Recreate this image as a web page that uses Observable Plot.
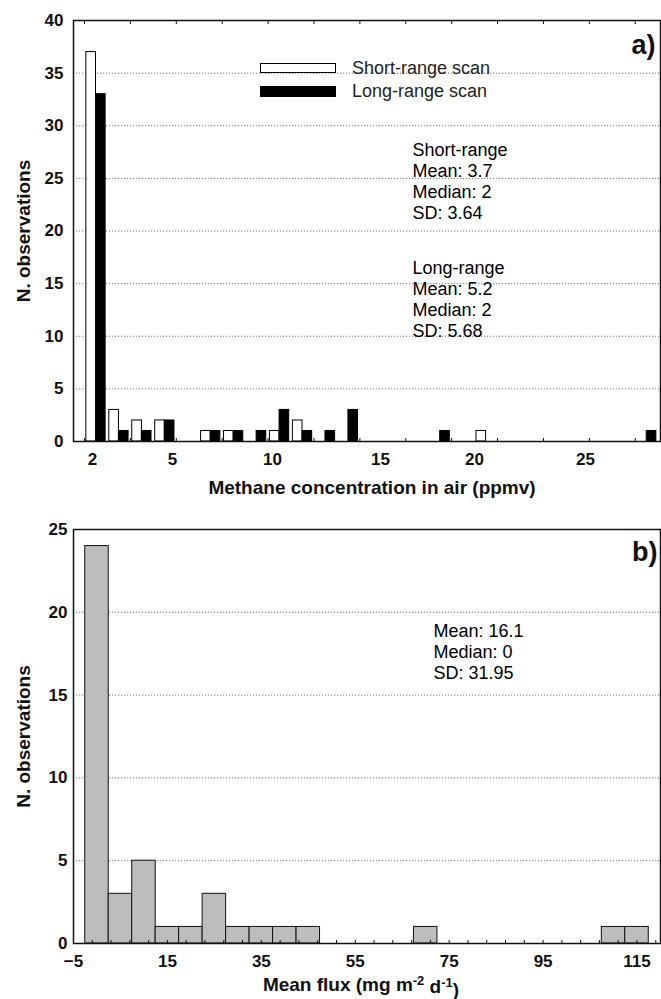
<!DOCTYPE html>
<html>
<head>
<meta charset="utf-8">
<script src="https://cdn.jsdelivr.net/npm/d3@7"></script>
<script src="https://cdn.jsdelivr.net/npm/@observablehq/plot@0.6"></script>
<style>
  body { margin: 0; background: #fff; }
  #wrap { position: relative; width: 661px; height: 999px; overflow: hidden; }
  #wrap svg { display: block; }
  .sw { position: absolute; box-sizing: border-box; border: 1px solid #000; }
  .lt { position: absolute; font-family: "Liberation Sans", Arial, sans-serif; font-size: 18px; color: #222; line-height: 1; white-space: nowrap; }
</style>
</head>
<body>
<div id="wrap"></div>
<script>
// ---------- DATA: panel a) ----------
const concBins = [0, 1, 2, 3, 4, 5, 6, 7, 8, 9, 10, 11, 12, 13, 14, 15, 16, 17, 18, 19, 20, 21, 22, 23, 24];
const shortRange = [37, 3, 2, 2, 0, 1, 1, 0, 1, 2, 0, 0, 0, 0, 0, 0, 0, 1, 0, 0, 0, 0, 0, 0, 0];
const longRange  = [33, 1, 1, 2, 0, 1, 1, 1, 3, 1, 1, 3, 0, 0, 0, 1, 0, 0, 0, 0, 0, 0, 0, 0, 1];
const concTickAt = [0.35, 3.83, 8.19, 12.9, 16.99, 21.83];
const concTickLabels = ["2", "5", "10", "15", "20", "25"];
const concYTicks = [0, 5, 10, 15, 20, 25, 30, 35, 40];
const seriesNames = ["Short-range scan", "Long-range scan"];
const statsShort = ["Short-range", "Mean: 3.7", "Median: 2", "SD: 3.64"];
const statsLong = ["Long-range", "Mean: 5.2", "Median: 2", "SD: 5.68"];

// ---------- DATA: panel b) ----------
const fluxBinCenter = [0, 5, 10, 15, 20, 25, 30, 35, 40, 45, 70, 110, 115];
const fluxCount     = [24, 3, 5, 1, 1, 3, 1, 1, 1, 1, 1, 1, 1];
const fluxBinWidth = 5;
const fluxTicks = [-5, 15, 35, 55, 75, 95, 115];
const fluxYTicks = [0, 5, 10, 15, 20, 25];
const statsFlux = ["Mean: 16.1", "Median: 0", "SD: 31.95"];

const FONT = "Liberation Sans, Arial, Helvetica, sans-serif";
const wrap = document.getElementById("wrap");

// ---------- Panel a ----------
const rowsShort = concBins.map((b, i) => ({bin: b, n: shortRange[i]})).filter(d => d.n > 0);
const rowsLong = concBins.map((b, i) => ({bin: b, n: longRange[i]})).filter(d => d.n > 0);

const plotA = Plot.plot({
  width: 661, height: 500,
  marginTop: 20, marginBottom: 59, marginLeft: 73, marginRight: 1,
  style: {fontFamily: FONT, fontSize: "17px", fontWeight: "bold", background: "transparent", color: "#111"},
  x: {type: "linear", domain: [-0.48, 25.1]},
  y: {domain: [0, 40]},
  marks: [
    Plot.gridY(concYTicks.filter(v => v > 0 && v < 40), {stroke: "#777", strokeOpacity: 1, strokeWidth: 1, strokeDasharray: "1.2,1.8"}),
    Plot.rectY(rowsShort, {x1: d => d.bin + 0.08, x2: d => d.bin + 0.5, y: "n", fill: "white", stroke: "black", strokeWidth: 1}),
    Plot.rectY(rowsLong, {x1: d => d.bin + 0.5, x2: d => d.bin + 0.92, y: "n", fill: "black", stroke: "black", strokeWidth: 1}),
    Plot.axisX({anchor: "bottom", ticks: concTickAt, tickSize: 0, tickPadding: 11, tickFormat: d => concTickLabels[concTickAt.indexOf(d)], label: null}),
    Plot.axisX({anchor: "bottom", ticks: d3.range(0, 25, 2), tickSize: -3, tickFormat: () => "", label: null}),
    Plot.axisX({anchor: "top", ticks: d3.range(0, 25, 2), tickSize: -3, tickFormat: () => "", label: null}),
    Plot.axisY({ticks: concYTicks, tickSize: 0, tickPadding: 10, label: null}),
    Plot.frame({stroke: "#111", strokeWidth: 1.5}),
    Plot.text(["N. observations"], {text: d => d, frameAnchor: "left", textAnchor: "middle", lineAnchor: "middle", rotate: -90, dx: -50, fontSize: 19, fontWeight: "bold"}),
    Plot.text(["Methane concentration in air (ppmv)"], {text: d => d, frameAnchor: "bottom", textAnchor: "middle", lineAnchor: "middle", dx: 5, dy: 46, fontSize: 19, fontWeight: "bold"}),
    Plot.text(["a)"], {text: d => d, frameAnchor: "top-right", textAnchor: "end", lineAnchor: "middle", dx: -5, dy: 25, fontSize: 27, fontWeight: "bold"}),
    Plot.text([statsShort.join("\n")], {text: d => d, frameAnchor: "top-left", textAnchor: "start", lineAnchor: "middle", dx: 339, dy: 160, fontSize: 18, fontWeight: "normal", lineHeight: 1.17, fill: "#000"}),
    Plot.text([statsLong.join("\n")], {text: d => d, frameAnchor: "top-left", textAnchor: "start", lineAnchor: "middle", dx: 339, dy: 278, fontSize: 18, fontWeight: "normal", lineHeight: 1.17, fill: "#000"})
  ]
});
wrap.appendChild(plotA);

// Legend (inside panel a)
const legend = [
  {name: seriesNames[0], fill: "#fff", top: 63, h: 10, ty: 68},
  {name: seriesNames[1], fill: "#000", top: 86, h: 11, ty: 91}
];
legend.forEach(l => {
  const s = document.createElement("div");
  s.className = "sw";
  s.style.cssText = `left:260px;top:${l.top}px;width:76px;height:${l.h}px;background:${l.fill};`;
  wrap.appendChild(s);
  const t = document.createElement("div");
  t.className = "lt";
  t.textContent = l.name;
  t.style.cssText = `left:352px;top:${l.ty - 9}px;`;
  wrap.appendChild(t);
});

// ---------- Panel b ----------
const rowsFlux = fluxBinCenter.map((c, i) => ({c, n: fluxCount[i]}));
const plotB = Plot.plot({
  width: 661, height: 499,
  marginTop: 29, marginBottom: 56, marginLeft: 73, marginRight: 1,
  style: {fontFamily: FONT, fontSize: "17px", fontWeight: "bold", background: "transparent", color: "#111"},
  x: {type: "linear", domain: [-5, 120]},
  y: {domain: [0, 25]},
  marks: [
    Plot.gridY(fluxYTicks.filter(v => v > 0 && v < 25), {stroke: "#777", strokeOpacity: 1, strokeWidth: 1, strokeDasharray: "1.2,1.8"}),
    Plot.rectY(rowsFlux, {x1: d => d.c - fluxBinWidth / 2, x2: d => d.c + fluxBinWidth / 2, y: "n", fill: "#bdbdbd", stroke: "#111", strokeWidth: 1}),
    Plot.axisX({anchor: "bottom", ticks: fluxTicks, tickSize: 0, tickPadding: 11, label: null}),
    Plot.axisX({anchor: "bottom", ticks: d3.range(-5, 120, 4), tickSize: -3, tickFormat: () => "", label: null}),
    Plot.axisY({ticks: fluxYTicks, tickSize: 0, tickPadding: 6, label: null}),
    Plot.frame({stroke: "#111", strokeWidth: 1.5}),
    Plot.text(["N. observations"], {text: d => d, frameAnchor: "left", textAnchor: "middle", lineAnchor: "middle", rotate: -90, dx: -50, fontSize: 19, fontWeight: "bold"}),
    Plot.text(["Mean flux (mg m-2 d-1)"], {text: d => d, frameAnchor: "bottom", textAnchor: "middle", lineAnchor: "middle", dx: -6, dy: 41, fontSize: 19, fontWeight: "bold"}),
    Plot.text(["b)"], {text: d => d, frameAnchor: "top-right", textAnchor: "end", lineAnchor: "middle", dx: -3, dy: 23, fontSize: 27, fontWeight: "bold"}),
    Plot.text([statsFlux.join("\n")], {text: d => d, frameAnchor: "top-left", textAnchor: "start", lineAnchor: "middle", dx: 360, dy: 122, fontSize: 18, fontWeight: "normal", lineHeight: 1.17, fill: "#000"})
  ]
});
wrap.appendChild(plotB);

// superscripts in the flux unit
d3.select(plotB).selectAll("text").each(function() {
  if (this.textContent === "Mean flux (mg m-2 d-1)") {
    const el = d3.select(this);
    el.text(null);
    el.append("tspan").text("Mean flux (mg m");
    el.append("tspan").attr("dy", "-0.45em").attr("font-size", "13px").text("-2");
    el.append("tspan").attr("dy", "0.45em").text(" d");
    el.append("tspan").attr("dy", "-0.45em").attr("font-size", "13px").text("-1");
    el.append("tspan").attr("dy", "0.45em").text(")");
  }
});
</script>
</body>
</html>
